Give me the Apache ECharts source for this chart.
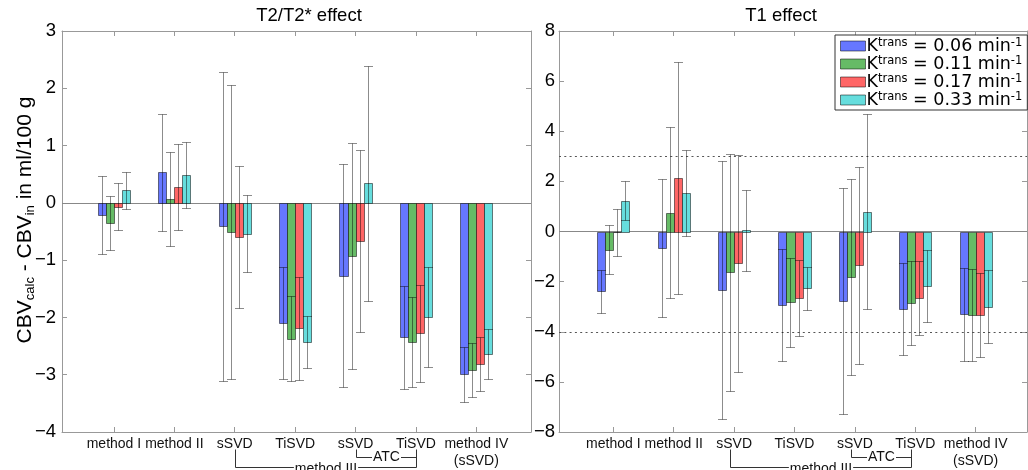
<!DOCTYPE html>
<html><head><meta charset="utf-8">
<script src="https://cdn.jsdelivr.net/npm/echarts@6/dist/echarts.min.js"></script>
<style>html,body{margin:0;padding:0;background:#fff}#c{width:1028px;height:470px}</style>
</head><body><div id="c"></div>
<script>
// ---------- data ----------
const categories = ['method I', 'method II', 'sSVD', 'TiSVD', 'sSVD', 'TiSVD', 'method IV\n(sSVD)'];
const seriesNames = ['Ktrans 0.06', 'Ktrans 0.11', 'Ktrans 0.17', 'Ktrans 0.33'];
const ktransValues = ['0.06', '0.11', '0.17', '0.33'];

// T2/T2* effect (left): means and standard deviations
const t2Blue    = [-0.21, 0.53, -0.41, -2.10, -1.27, -2.35, -2.99];
const t2BlueSd  = [0.68, 1.02, 2.70, 0.98, 1.95, 0.90, 0.48];
const t2Green   = [-0.35, 0.07, -0.51, -2.37, -0.93, -2.43, -2.92];
const t2GreenSd = [0.47, 0.82, 2.56, 0.74, 1.97, 0.79, 0.47];
const t2Red     = [-0.07, 0.28, -0.59, -2.19, -0.67, -2.28, -2.82];
const t2RedSd   = [0.41, 0.75, 1.24, 0.90, 1.59, 0.85, 0.47];
const t2Cyan    = [0.22, 0.49, -0.54, -2.43, 0.34, -1.99, -2.64];
const t2CyanSd  = [0.32, 0.58, 0.67, 0.46, 2.05, 0.87, 0.44];

// T1 effect (right)
const t1Blue    = [-2.39, -0.66, -2.32, -2.94, -2.78, -3.09, -3.31];
const t1BlueSd  = [0.85, 2.77, 5.15, 2.23, 4.50, 1.83, 1.84];
const t1Green   = [-0.72, 0.75, -1.63, -2.82, -1.82, -2.86, -3.33];
const t1GreenSd = [0.98, 3.41, 4.72, 1.78, 3.92, 1.68, 1.85];
const t1Red     = [-0.03, 2.14, -1.27, -2.66, -1.34, -2.66, -3.33];
const t1RedSd   = [0.93, 4.64, 4.32, 1.51, 3.93, 1.48, 1.67];
const t1Cyan    = [1.23, 1.53, 0.04, -2.27, 0.79, -2.18, -3.00];
const t1CyanSd  = [0.79, 1.71, 1.60, 0.86, 3.89, 1.43, 1.45];

const t1RefLines = [3, -4];
const titles = ['T2/T2* effect', 'T1 effect'];

// ---------- styling ----------
const colors = ['#6677ff', '#66bb66', '#ff6666', '#66dddd'];
const SANS = 'Liberation Sans, Arial, sans-serif';
const LEG = 'DejaVu Sans, Verdana, sans-serif';
const BAR_W = 0.133;
const catPos = categories.map((c, i) => i + 1);

const leftMeans = [t2Blue, t2Green, t2Red, t2Cyan];
const leftSds = [t2BlueSd, t2GreenSd, t2RedSd, t2CyanSd];
const rightMeans = [t1Blue, t1Green, t1Red, t1Cyan];
const rightSds = [t1BlueSd, t1GreenSd, t1RedSd, t1CyanSd];

const chart = echarts.init(document.getElementById('c'), null, {renderer: 'canvas'});

function renderer(k) {
  return function (params, api) {
    const cat = api.value(0), mean = api.value(1), sd = api.value(2);
    const xc = cat + (k - 1.5) * BAR_W;
    const a = api.coord([xc - BAR_W / 2, 0]);
    const b = api.coord([xc + BAR_W / 2, mean]);
    const t = api.coord([xc, mean + sd]);
    const u = api.coord([xc, mean - sd]);
    const x0 = Math.round(Math.min(a[0], b[0])) + 0.5;
    const x1 = Math.round(Math.max(a[0], b[0])) + 0.5;
    const y0 = Math.round(Math.min(a[1], b[1])) + 0.5;
    const y1 = Math.round(Math.max(a[1], b[1])) + 0.5;
    const cx = Math.round(t[0]) + 0.5;
    const ty = Math.round(t[1]) + 0.5, uy = Math.round(u[1]) + 0.5;
    const cap = 4.5;
    const err = {stroke: 'rgba(0,0,0,0.45)', lineWidth: 1};
    return {
      type: 'group',
      children: [
        {type: 'rect', shape: {x: x0, y: y0, width: x1 - x0, height: y1 - y0},
         style: {fill: colors[k], stroke: 'rgba(0,0,0,0.5)', lineWidth: 1}},
        {type: 'line', shape: {x1: cx, y1: ty, x2: cx, y2: uy}, style: err},
        {type: 'line', shape: {x1: cx - cap, y1: ty, x2: cx + cap, y2: ty}, style: err},
        {type: 'line', shape: {x1: cx - cap, y1: uy, x2: cx + cap, y2: uy}, style: err}
      ]
    };
  };
}

const frame = '#999';
function xAxes(g, min, max) {
  const base = {
    gridIndex: g, type: 'value', min: min, max: max,
    axisLine: {show: true, onZero: false, lineStyle: {color: frame, width: 1}},
    axisTick: {show: true, inside: true, length: 5, customValues: catPos, lineStyle: {color: frame}},
    splitLine: {show: false}
  };
  return [
    Object.assign({}, base, {position: 'bottom',
      axisLabel: {show: true, customValues: catPos, margin: 4, fontSize: 14, fontFamily: SANS, color: '#111', lineHeight: 17,
        formatter: v => categories[Math.round(v) - 1]}}),
    Object.assign({}, base, {position: 'top', axisLabel: {show: false}})
  ];
}
function yAxes(g, min, max, interval, margin) {
  const base = {
    gridIndex: g, type: 'value', min: min, max: max, interval: interval,
    axisLine: {show: true, onZero: false, lineStyle: {color: frame, width: 1}},
    axisTick: {show: true, inside: true, length: 5, lineStyle: {color: frame}},
    splitLine: {show: false}
  };
  return [
    Object.assign({}, base, {position: 'left',
      axisLabel: {show: true, margin: margin, fontSize: 18.5, fontFamily: SANS, color: '#000',
        formatter: v => String(v).replace('-', '\u2212')}}),
    Object.assign({}, base, {position: 'right', axisLabel: {show: false}})
  ];
}

const series = [];
[[leftMeans, leftSds, 0], [rightMeans, rightSds, 2]].forEach(([means, sds, ax], gi) => {
  means.forEach((arr, k) => {
    const s = {
      type: 'custom', name: seriesNames[k], xAxisIndex: ax, yAxisIndex: ax,
      itemStyle: {color: colors[k], borderColor: 'rgba(0,0,0,0.5)', borderWidth: 1},
      renderItem: renderer(k),
      encode: {x: 0, y: 1},
      data: arr.map((m, i) => [catPos[i], m, sds[k][i]]),
      z: 3
    };
    if (k === 0) {
      const lines = [{yAxis: 0}];
      if (gi === 1) t1RefLines.forEach(v => lines.push({yAxis: v, lineStyle: {type: [2, 3.3], color: '#555', width: 1}}));
      s.markLine = {silent: true, symbol: 'none', label: {show: false}, animation: false,
        lineStyle: {color: '#888', type: 'solid', width: 1}, data: lines, z: 1};
    }
    series.push(s);
  });
});

const option = {
  animation: false,
  backgroundColor: '#fff',
  grid: [
    {left: 62, top: 31, width: 469, height: 403},
    {left: 559, top: 31, width: 468, height: 402}
  ],
  xAxis: [...xAxes(0, 0.14, 7.905), ...xAxes(1, 0.1, 7.85)],
  yAxis: [...yAxes(0, -4, 3, 1, 6), ...yAxes(1, -8, 8, 2, 4)],
  legend: {
    orient: 'vertical', left: 835, top: 35, itemWidth: 25, itemHeight: 10, itemGap: 0,
    padding: [2, 5, 1, 5], borderColor: '#333', borderWidth: 1, backgroundColor: '#fff',
    icon: 'rect', selectedMode: false,
    itemStyle: {borderColor: 'rgba(0,0,0,0.5)', borderWidth: 1},
    data: seriesNames,
    formatter: name => '{k|K}{s|trans}{t| = ' + ktransValues[seriesNames.indexOf(name)] + ' min}{s|-1}',
    textStyle: {
      padding: [0, 0, 0, -4],
      rich: {
        k: {fontSize: 17.5, fontFamily: LEG, color: '#000', lineHeight: 17.5},
        t: {fontSize: 17.5, fontFamily: LEG, color: '#000', lineHeight: 17.5},
        s: {fontSize: 11.5, fontFamily: LEG, color: '#000', lineHeight: 10, verticalAlign: 'top'}
      }
    }
  },
  series: series
};
chart.setOption(option);

// ---------- annotations (titles, y name, brackets) ----------
const graphics = [];
const gridCenters = [309, 781];
titles.forEach((t, i) => graphics.push({type: 'text', x: gridCenters[i], y: 16,
  style: {text: t, fontSize: 18.5, fontFamily: SANS, fill: '#000', align: 'center', verticalAlign: 'middle'}}));
graphics.push({type: 'text', x: 25, y: 220, rotation: Math.PI / 2,
  style: {text: '{m|CBV}{s|calc}{m| - CBV}{s|in}{m| in ml/100 g}', align: 'center', verticalAlign: 'middle',
    rich: {
      m: {fontSize: 21, fontFamily: SANS, fill: '#000', lineHeight: 24},
      s: {fontSize: 13, fontFamily: SANS, fill: '#000', lineHeight: 8, verticalAlign: 'bottom'}
    }}});
const ln = (x1, y1, x2, y2) => ({type: 'line', shape: {x1, y1, x2, y2}, style: {stroke: '#333', lineWidth: 1}, z: 5});
[[0, 0], [2, -4]].forEach(([ax, off]) => {
  const px = c => Math.round(chart.convertToPixel({xAxisIndex: ax}, c) + off) + 0.5;
  const xa = px(3), xb = px(5), xc = px(6);
  const yTop = 449.5, yAtc = 457.5, yIII = 467.5;
  graphics.push(ln(xa, yTop, xa, yIII), ln(xc, yTop, xc, yIII), ln(xa, yIII, xc, yIII));
  graphics.push(ln(xb, yTop, xb, yAtc), ln(xb, yAtc, xc, yAtc));
  graphics.push({type: 'text', x: (xb + xc) / 2, y: yAtc, z: 6,
    style: {text: 'ATC', fontSize: 14, fontFamily: SANS, fill: '#111', align: 'center', verticalAlign: 'middle',
      backgroundColor: '#fff', padding: [0, 1]}});
  graphics.push({type: 'text', x: (xa + xc) / 2, y: yIII + 1.5, z: 6,
    style: {text: 'method III', fontSize: 14, fontFamily: SANS, fill: '#111', align: 'center', verticalAlign: 'middle',
      backgroundColor: '#fff', padding: [0, 1]}});
});
chart.setOption({graphic: graphics});
</script>
</body></html>
